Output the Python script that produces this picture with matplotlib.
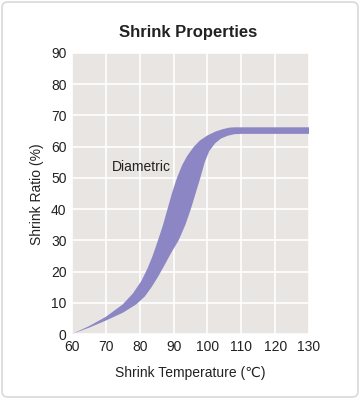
import numpy as np
import matplotlib.pyplot as plt
from matplotlib.patches import FancyBboxPatch

# upper edge of the band
upper_x = [60, 65, 70, 75, 78, 80.5, 82.3, 83.8, 85.4, 86.9, 88.2, 89.5, 91.0, 92.5, 94, 96, 97.8, 100, 102.3, 104.5, 106.5, 108, 130]
upper_y = [0, 2.5, 5.5, 9.5, 13, 17, 21, 25, 30, 35, 40, 45, 50, 54, 57, 60, 62, 63.6, 64.8, 65.6, 66.1, 66.2, 66.2]

# lower edge of the band
lower_x = [60, 65, 70, 75, 79, 81.5, 83.5, 85.5, 87.3, 89.3, 91.5, 93.5, 95.1, 96.5, 97.9, 99.2, 100.5, 102.2, 104, 106, 108, 110, 130]
lower_y = [0, 2, 4.3, 6.8, 9.5, 12, 15, 18.5, 22, 26, 30, 35, 40, 45, 50, 55, 58.5, 61, 62.6, 63.5, 64, 64.1, 64.1]

x_ticks = [60, 70, 80, 90, 100, 110, 120, 130]
y_ticks = [0, 10, 20, 30, 40, 50, 60, 70, 80, 90]

text_font = ['Liberation Sans', 'DejaVu Sans']

fig = plt.figure(figsize=(3.6, 3.99), dpi=100)
fig.patch.set_facecolor('white')

border = FancyBboxPatch((2 / 360, 2 / 399), 356 / 360, 395 / 399,
                        boxstyle='round,pad=0,rounding_size=0.015',
                        transform=fig.transFigure, facecolor='none',
                        edgecolor='#d9d9d9', linewidth=1.2, zorder=-1)
fig.patches.append(border)

ax = fig.add_axes([72 / 360, 65 / 399, 237 / 360, 281 / 399])
ax.set_facecolor('#e8e5e2')
ax.set_xlim(60, 130)
ax.set_ylim(0, 90)
ax.set_xticks(x_ticks)
ax.set_yticks(y_ticks)
ax.grid(True, color='white', linewidth=1.2)
ax.set_axisbelow(True)
for s in ax.spines.values():
    s.set_visible(False)
ax.tick_params(length=0, labelsize=10, colors='#222222', pad=4)
for lab in ax.get_xticklabels() + ax.get_yticklabels():
    lab.set_family(text_font)

band_x = np.concatenate([upper_x, lower_x[::-1]])
band_y = np.concatenate([upper_y, lower_y[::-1]])
ax.fill(band_x, band_y, color='#8c87c4', linewidth=0, zorder=3)

ax.text(71.9, 53.6, 'Diametric', fontsize=10, va='center', ha='left',
        color='#222222', family=text_font)

fig.text(188 / 360, 1 - 33 / 399, 'Shrink Properties', ha='center', va='center',
         fontsize=12, fontweight='bold', color='#222222', family=text_font)
fig.text(190 / 360, 1 - 373 / 399, 'Shrink Temperature (\u2103)', ha='center', va='center',
         fontsize=10, color='#222222', family=text_font)
fig.text(37 / 360, 1 - 194 / 399, 'Shrink Ratio (%)', ha='center', va='center',
         rotation=90, fontsize=10, color='#222222', family=text_font)

fig.savefig('out.png', dpi=100)
